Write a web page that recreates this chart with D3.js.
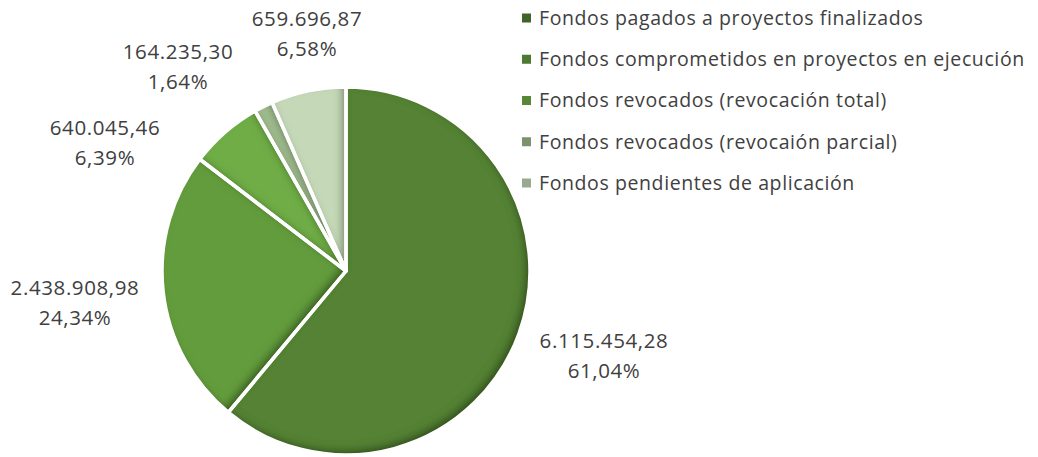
<!DOCTYPE html>
<html>
<head>
<meta charset="utf-8">
<script src="https://cdn.jsdelivr.net/npm/d3@7"></script>
<style>
  html, body { margin: 0; padding: 0; background: #ffffff; }
  svg { display: block; }
  text { font-family: "Open Sans", "Noto Sans", sans-serif; fill: #404040; }
</style>
</head>
<body>
<svg id="chart" width="1038" height="457"></svg>
<script>
// Fund categories (legend order = slice order, clockwise from 12 o'clock)
const categories = [
  "Fondos pagados a proyectos finalizados",
  "Fondos comprometidos en proyectos en ejecución",
  "Fondos revocados (revocación total)",
  "Fondos revocados (revocaión parcial)",
  "Fondos pendientes de aplicación"
];
// Amounts in euros
const amounts = [6115454.28, 2438908.98, 640045.46, 164235.30, 659696.87];
// Labels as printed
const amountLabels = ["6.115.454,28", "2.438.908,98", "640.045,46", "164.235,30", "659.696,87"];
const shareLabels = ["61,04%", "24,34%", "6,39%", "1,64%", "6,58%"];
const colors = ["#548235", "#639c3d", "#70ad47", "#9fbb8d", "#c5d9b8"];

// Layout
const W = 1038, H = 457;
const cx = 346, cy = 271, radius = 184;
// Centre points of the data labels (best-fit placement)
const labelCentres = [[604, 355], [75, 302], [105, 142], [178, 66], [307, 33]];

const svg = d3.select("#chart");

// Inner shadow used on the slices
const defs = svg.append("defs");
const f = defs.append("filter").attr("id", "innerShadow")
  .attr("filterUnits", "userSpaceOnUse")
  .attr("x", -W).attr("y", -H).attr("width", 2 * W).attr("height", 2 * H);
f.append("feComponentTransfer").attr("in", "SourceAlpha").attr("result", "inv")
  .append("feFuncA").attr("type", "table").attr("tableValues", "1 0");
f.append("feGaussianBlur").attr("in", "inv").attr("stdDeviation", 4.5).attr("result", "blur");
f.append("feOffset").attr("in", "blur").attr("dx", -4.5).attr("dy", -4).attr("result", "off");
f.append("feFlood").attr("flood-color", "#000").attr("flood-opacity", 0.7).attr("result", "col");
f.append("feComposite").attr("in", "col").attr("in2", "off").attr("operator", "in").attr("result", "sh");
f.append("feComposite").attr("in", "sh").attr("in2", "SourceAlpha").attr("operator", "in").attr("result", "shIn");
const merge = f.append("feMerge");
merge.append("feMergeNode").attr("in", "SourceGraphic");
merge.append("feMergeNode").attr("in", "shIn");

const data = categories.map((c, i) => ({ name: c, value: amounts[i], color: colors[i], amt: amountLabels[i], pct: shareLabels[i], i }));

const pie = d3.pie().sort(null).value(d => d.value).startAngle(0).endAngle(2 * Math.PI);
const arc = d3.arc().innerRadius(0).outerRadius(radius);
const arcs = pie(data);

const g = svg.append("g").attr("transform", `translate(${cx},${cy})`);

// Slice fills with shading
g.selectAll("path.fill").data(arcs).join("path")
  .attr("class", "fill")
  .attr("d", arc)
  .attr("fill", d => d.data.color)
  .attr("filter", "url(#innerShadow)");

// White separators on top
g.selectAll("path.edge").data(arcs).join("path")
  .attr("class", "edge")
  .attr("d", arc)
  .attr("fill", "none")
  .attr("stroke", "#ffffff")
  .attr("stroke-width", 3.5)
  .attr("stroke-linejoin", "round");

// Data labels: amount on first line, share on second
const lab = svg.selectAll("text.lab").data(arcs).join("text")
  .attr("class", "lab")
  .attr("text-anchor", "middle")
  .style("font-size", "20.5px")
  .style("letter-spacing", "0.6px");
lab.append("tspan")
  .attr("x", d => labelCentres[d.index][0])
  .attr("y", d => labelCentres[d.index][1] - 7)
  .text(d => d.data.amt);
lab.append("tspan")
  .attr("x", d => labelCentres[d.index][0])
  .attr("y", d => labelCentres[d.index][1] + 23)
  .text(d => d.data.pct);

// Legend
const legend = svg.append("g").attr("transform", "translate(522,0)");
const rowY = d3.scalePoint().domain(d3.range(categories.length)).range([18, 183]);
const items = legend.selectAll("g").data(data).join("g")
  .attr("transform", d => `translate(0,${rowY(d.i)})`);
items.append("rect")
  .attr("x", 0).attr("y", -4.5).attr("width", 9).attr("height", 9)
  .attr("fill", d => d3.color(d.color).darker(0.7));
items.append("text")
  .attr("x", 17).attr("y", 0).attr("dy", "0.35em")
  .style("font-size", "19.5px")
  .style("letter-spacing", "0.6px")
  .text(d => d.name);
</script>
</body>
</html>
